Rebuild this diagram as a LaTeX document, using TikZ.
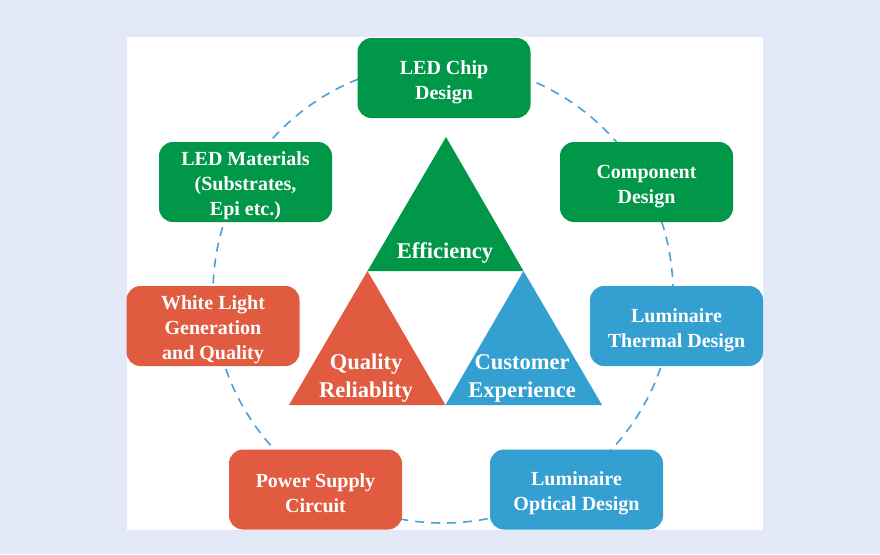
\documentclass[tikz,border=0pt]{standalone}
\usepackage{fontspec}
\setmainfont{Liberation Serif}
\usetikzlibrary{positioning}
\definecolor{pagebg}{RGB}{227,233,247}
\definecolor{ledgreen}{RGB}{0,152,72}
\definecolor{ledred}{RGB}{225,91,64}
\definecolor{ledblue}{RGB}{52,160,210}
\definecolor{ringblue}{RGB}{75,160,215}
\newcommand\toplift{\rule{0pt}{22pt}}

\tikzset{
  topic/.style={rounded corners=14pt, minimum width=173pt, minimum height=80pt,
    inner sep=0pt, align=center, text=white,
    font=\fontsize{20}{25}\selectfont\bfseries},
  goal/.style={align=center, text=white, inner sep=0pt,
    font=\fontsize{22.5}{28}\selectfont\bfseries},
}

\begin{document}
\begin{tikzpicture}[x=1pt,y=-1pt]
  \fill[pagebg] (0,0) rectangle (880,554);
  \fill[white] (127,37) rectangle (763,530);
  \useasboundingbox (0,0) rectangle (880,554);

  % dashed ring behind the boxes
  \draw[ringblue, line width=1.6pt, dash pattern=on 9pt off 7pt] (443,293) circle[radius=230pt];

  % central triangle
  \coordinate (apex) at (446,137);
  \coordinate (ml) at (367.5,271);
  \coordinate (mr) at (523.5,271);
  \coordinate (bl) at (289,405);
  \coordinate (bm) at (445.5,405);
  \coordinate (br) at (602,405);
  \fill[ledgreen] (apex) -- (ml) -- (mr) -- cycle;
  \fill[ledred] (ml) -- (bl) -- (bm) -- cycle;
  \fill[ledblue] (mr) -- (bm) -- (br) -- cycle;

  \node[goal] (eff) at (445,253) {Efficiency};
  \node[goal] (qual) at (366,378) {Quality\\Reliablity};
  \node[goal] (cust) at (522,378) {Customer\\Experience};

  % boxes round the ring
  \node[topic, fill=ledgreen] (chip) at (444,78) {\toplift LED Chip\\Design};
  \node[topic, fill=ledgreen] (mat) at (245.5,182) {\toplift LED Materials\\(Substrates,\\Epi etc.)};
  \node[topic, fill=ledgreen] (comp) at (646.5,182) {\toplift Component\\Design};
  \node[topic, fill=ledred] (white) at (213,326) {\toplift White Light\\Generation\\and Quality};
  \node[topic, fill=ledblue] (therm) at (676.5,326) {\toplift Luminaire\\Thermal Design};
  \node[topic, fill=ledred] (power) at (315.5,489.5) {\toplift Power Supply\\Circuit};
  \node[topic, fill=ledblue] (optic) at (576.5,489.5) {\toplift Luminaire\\Optical Design};
\end{tikzpicture}
\end{document}
